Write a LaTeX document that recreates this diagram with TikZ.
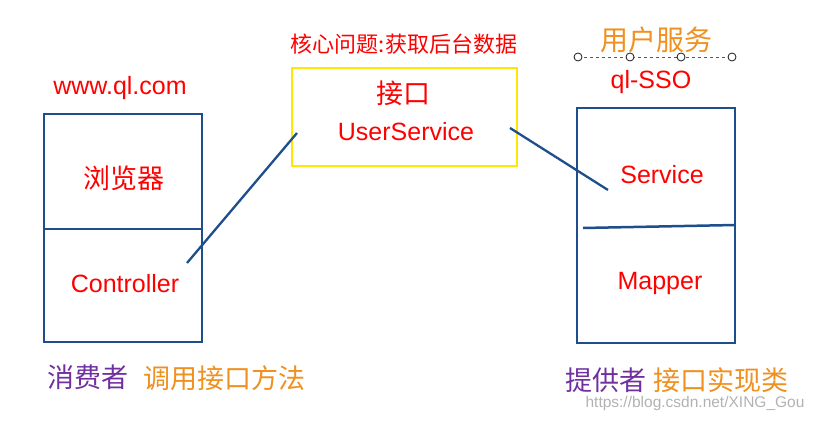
\documentclass[tikz,border=0pt]{standalone}
\usepackage{fontspec}
\setmainfont{Liberation Sans}
\newfontfamily\cjk{Noto Sans CJK SC}
\definecolor{bx}{HTML}{1F4E8C}
\definecolor{rd}{HTML}{FF0000}
\definecolor{org}{HTML}{F0901E}
\definecolor{pur}{HTML}{7030A0}
\begin{document}
\begin{tikzpicture}[x=1pt,y=-1pt,
  box/.style={draw=bx,line width=2.5pt},
  lbl/.style={text=rd,font=\fontsize{25}{30}\selectfont},
  clbl/.style={text=rd,font=\cjk\fontsize{27}{32}\selectfont},
  con/.style={draw=bx,line width=2.3pt}]
\useasboundingbox (0,0) rectangle (814,422);
\draw[box] (44,114) rectangle (202,342);
\draw[box] (44,229) -- (202,229);
\draw[draw=yellow!90!orange,line width=2.8pt] (292,68) rectangle (517,166);
\draw[box] (577,108) rectangle (735,343);
\draw[box] (583,228) -- (735,225);
\node[lbl] (www) at (120,88) {www.ql.com};
\node[clbl] (llq) at (124,178) {浏览器};
\node[lbl] (ctl) at (125,284) {Controller};
\node[clbl] (jk) at (403,93) {接口};
\node[lbl] (us) at (406,132) {UserService};
\node[text=rd,font=\cjk\fontsize{22}{26}\selectfont] (hx) at (404,44) {核心问题:获取后台数据};
\node[text=org,font=\cjk\fontsize{28}{32}\selectfont] (yh) at (656,40) {用户服务};
\node[lbl] (sso) at (651,82) {ql-SSO};
\node[lbl] (svc) at (662,175) {Service};
\node[lbl] (mp) at (660,283) {Mapper};
\node[text=pur,font=\cjk\fontsize{27}{32}\selectfont] (xf) at (88,377) {消费者};
\node[text=org,font=\cjk\fontsize{27}{32}\selectfont] (dy) at (224,378) {调用接口方法};
\node[text=pur,font=\cjk\fontsize{27}{32}\selectfont] (tg) at (606,380) {提供者};
\node[text=org,font=\cjk\fontsize{27}{32}\selectfont] (sx) at (721,380) {接口实现类};
\node[text=gray!60,font=\fontsize{15.5}{18}\selectfont] (wm) at (695,403) {https://blog.csdn.net/XING\_Gou};
\coordinate (a1) at (187,263); \coordinate (a2) at (297,133);
\coordinate (b1) at (510,128); \coordinate (b2) at (608,190);
\draw[con] (a1) -- (a2);
\draw[con] (b1) -- (b2);
\foreach \i/\x in {1/578,2/630,3/681,4/732} \coordinate (c\i) at (\x,57);
\draw[gray!70!black,dashed,line width=0.8pt] (c1) -- (c4);
\foreach \i in {1,...,4} \draw[gray!20!black,fill=white,line width=0.8pt] (c\i) circle (4);
\end{tikzpicture}
\end{document}
